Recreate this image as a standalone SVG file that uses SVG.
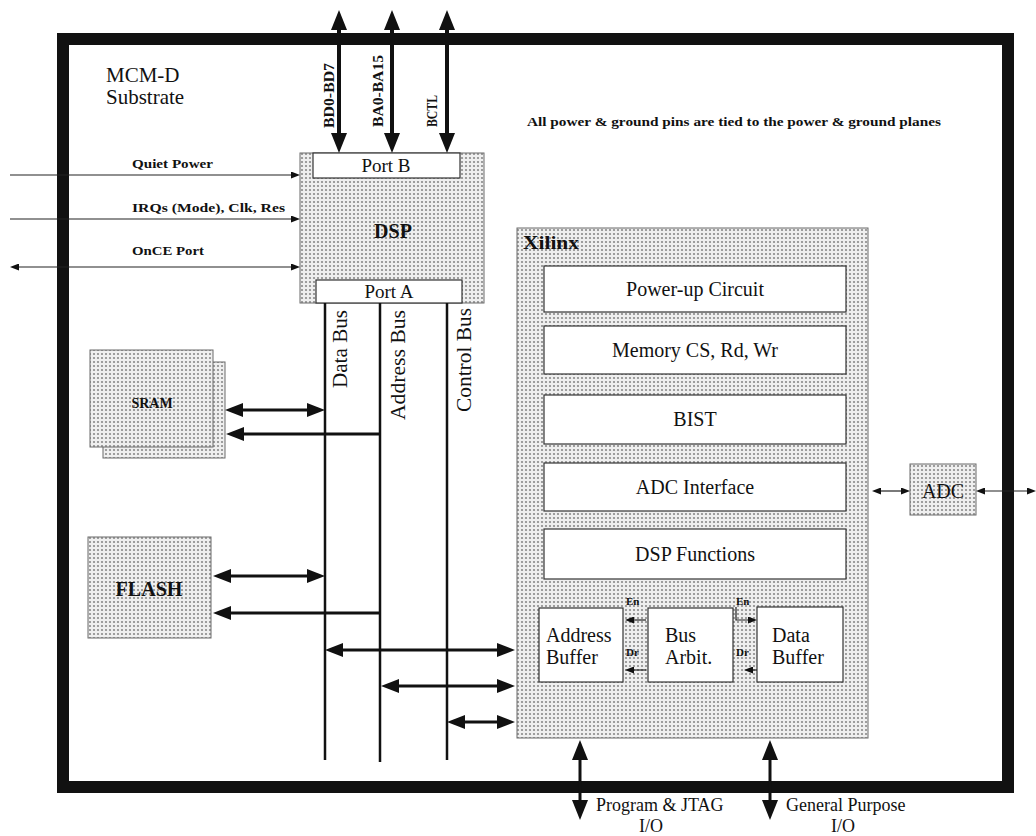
<svg xmlns="http://www.w3.org/2000/svg" width="1036" height="836" viewBox="0 0 1036 836" font-family="'Liberation Serif', 'DejaVu Serif', serif">
<style>
.t { font-family: 'Liberation Serif', 'DejaVu Serif', serif; fill: #111; }
.b { font-weight: bold; }
.shade { fill: url(#dots); stroke: #6a6a6a; stroke-width: 1; }
.white { fill: #fff; stroke: #333; stroke-width: 1.2; }
.bus { stroke: #111; stroke-width: 2.5; fill: none; }
.thick { stroke: #111; stroke-width: 4; fill: none; }
.med { stroke: #111; stroke-width: 3; fill: none; }
.thin { stroke: #222; stroke-width: 1.2; fill: none; }
</style>
<defs>
<pattern id="dots" width="4" height="4" patternUnits="userSpaceOnUse">
<rect width="4" height="4" fill="#efefef"/>
<circle cx="2" cy="2" r="1.1" fill="#8a8a8a"/>
</pattern>
<marker id="hb" viewBox="0 0 20 16" refX="6" refY="8" markerWidth="20" markerHeight="16" markerUnits="userSpaceOnUse" orient="auto-start-reverse"><path d="M0,0 L20,8 L0,16 z" fill="#111"/></marker>
<marker id="hm" viewBox="0 0 18 14" refX="6" refY="7" markerWidth="18" markerHeight="14" markerUnits="userSpaceOnUse" orient="auto-start-reverse"><path d="M0,0 L18,7 L0,14 z" fill="#111"/></marker>
<marker id="hs" viewBox="0 0 9 7" refX="3" refY="3.5" markerWidth="9" markerHeight="7" markerUnits="userSpaceOnUse" orient="auto-start-reverse"><path d="M0,0 L9,3.5 L0,7 z" fill="#111"/></marker>
</defs>

<rect width="1036" height="836" fill="#fff"/>

<g id="substrate">
<rect x="63" y="39" width="945" height="748" fill="none" stroke="#111" stroke-width="12"/>
<text class="t" x="106" y="82" font-size="21">MCM-D</text>
<text class="t" x="106" y="104" font-size="21">Substrate</text>
<text class="t" x="527" y="126" font-size="12" font-weight="600" textLength="414" lengthAdjust="spacingAndGlyphs">All power &amp; ground pins are tied to the power &amp; ground planes</text>
</g>

<g id="dsp">
<rect class="shade" x="300" y="153" width="184" height="150"/>
<rect class="white" x="313" y="153" width="147" height="25"/>
<rect class="white" x="316" y="280" width="146" height="23"/>
<text class="t" x="386" y="172" font-size="19" text-anchor="middle">Port B</text>
<text class="t" x="389" y="298" font-size="19" text-anchor="middle">Port A</text>
<text class="t b" x="393" y="238" font-size="20" text-anchor="middle">DSP</text>
</g>

<g id="sram">
<rect class="shade" x="103" y="362" width="122" height="96"/>
<rect class="shade" x="90" y="350" width="123" height="97"/>
<text class="t b" x="152" y="408" font-size="14" text-anchor="middle">SRAM</text>
</g>

<g id="flash">
<rect class="shade" x="88" y="537" width="123" height="101"/>
<text class="t b" x="149" y="596" font-size="21" text-anchor="middle" textLength="67" lengthAdjust="spacingAndGlyphs">FLASH</text>
</g>

<g id="xilinx">
<rect class="shade" x="517" y="228" width="351" height="510"/>
<text class="t b" x="523" y="249" font-size="18" textLength="56" lengthAdjust="spacingAndGlyphs">Xilinx</text>
</g>
<g id="powerup">
<rect class="white" x="544" y="266" width="302" height="46"/>
<text class="t" x="695" y="296" font-size="20" text-anchor="middle">Power-up Circuit</text>
</g>
<g id="memory">
<rect class="white" x="544" y="326" width="302" height="48"/>
<text class="t" x="695" y="357" font-size="20" text-anchor="middle">Memory CS, Rd, Wr</text>
</g>
<g id="bist">
<rect class="white" x="544" y="395" width="302" height="49"/>
<text class="t" x="695" y="426" font-size="20" text-anchor="middle">BIST</text>
</g>
<g id="adcif">
<rect class="white" x="544" y="463" width="302" height="48"/>
<text class="t" x="695" y="494" font-size="20" text-anchor="middle">ADC Interface</text>
</g>
<g id="dspfunc">
<rect class="white" x="544" y="529" width="302" height="50"/>
<text class="t" x="695" y="561" font-size="20" text-anchor="middle">DSP Functions</text>
</g>
<g id="addrbuf">
<rect class="white" x="539" y="608" width="84" height="74"/>
<text class="t" x="546" y="642" font-size="20">Address</text>
<text class="t" x="546" y="664" font-size="20">Buffer</text>
</g>
<g id="busarbit">
<rect class="white" x="648" y="608" width="85" height="74"/>
<text class="t" x="665" y="642" font-size="20">Bus</text>
<text class="t" x="665" y="664" font-size="20">Arbit.</text>
</g>
<g id="databuf">
<rect class="white" x="757" y="607" width="86" height="75"/>
<text class="t" x="772" y="642" font-size="20">Data</text>
<text class="t" x="772" y="664" font-size="20">Buffer</text>
</g>

<g id="adc">
<rect class="shade" x="910" y="464" width="66" height="51"/>
<text class="t" x="943" y="498" font-size="20" text-anchor="middle">ADC</text>
</g>

<g id="connectors">
<line class="thick" x1="339" y1="24" x2="339" y2="139" marker-start="url(#hb)" marker-end="url(#hb)"/>
<line class="thick" x1="392" y1="24" x2="392" y2="139" marker-start="url(#hb)" marker-end="url(#hb)"/>
<line class="thick" x1="447" y1="24" x2="447" y2="139" marker-start="url(#hb)" marker-end="url(#hb)"/>
<text class="t b" transform="translate(334,128) rotate(-90)" font-size="14" textLength="65" lengthAdjust="spacingAndGlyphs">BD0-BD7</text>
<text class="t b" transform="translate(383,127) rotate(-90)" font-size="14" textLength="72" lengthAdjust="spacingAndGlyphs">BA0-BA15</text>
<text class="t b" transform="translate(437,127) rotate(-90)" font-size="14" textLength="32" lengthAdjust="spacingAndGlyphs">BCTL</text>

<line class="thin" x1="10" y1="175" x2="294" y2="175" marker-end="url(#hs)"/>
<line class="thin" x1="10" y1="219" x2="294" y2="219" marker-end="url(#hs)"/>
<line class="thin" x1="16" y1="267" x2="294" y2="267" marker-start="url(#hs)" marker-end="url(#hs)"/>
<text class="t b" x="132" y="168" font-size="13" textLength="81" lengthAdjust="spacingAndGlyphs">Quiet Power</text>
<text class="t b" x="132" y="212" font-size="13" textLength="153" lengthAdjust="spacingAndGlyphs">IRQs (Mode), Clk, Res</text>
<text class="t b" x="132" y="255" font-size="13" textLength="72" lengthAdjust="spacingAndGlyphs">OnCE Port</text>

<line class="bus" x1="325" y1="303" x2="325" y2="760"/>
<line class="bus" x1="380" y1="303" x2="380" y2="762"/>
<line class="bus" x1="447" y1="303" x2="447" y2="760"/>
<text class="t" transform="translate(347,388) rotate(-90)" font-size="21" textLength="78" lengthAdjust="spacingAndGlyphs">Data Bus</text>
<text class="t" transform="translate(405,420) rotate(-90)" font-size="21" textLength="110" lengthAdjust="spacingAndGlyphs">Address Bus</text>
<text class="t" transform="translate(471,412) rotate(-90)" font-size="21" textLength="104" lengthAdjust="spacingAndGlyphs">Control Bus</text>

<line class="med" x1="237" y1="410" x2="313" y2="410" marker-start="url(#hm)" marker-end="url(#hm)"/>
<line class="med" x1="380" y1="434" x2="238" y2="434" marker-end="url(#hm)"/>
<line class="med" x1="225" y1="576" x2="313" y2="576" marker-start="url(#hm)" marker-end="url(#hm)"/>
<line class="med" x1="380" y1="613" x2="225" y2="613" marker-end="url(#hm)"/>
<line class="med" x1="337" y1="650" x2="503" y2="650" marker-start="url(#hm)" marker-end="url(#hm)"/>
<line class="med" x1="393" y1="686" x2="503" y2="686" marker-start="url(#hm)" marker-end="url(#hm)"/>
<line class="med" x1="459" y1="722" x2="503" y2="722" marker-start="url(#hm)" marker-end="url(#hm)"/>

<line class="thin" x1="646" y1="620" x2="631" y2="620" marker-end="url(#hs)"/>
<line class="thin" x1="646" y1="670" x2="631" y2="670" marker-end="url(#hs)"/>
<polyline class="thin" points="736,607 736,620 751,620" marker-end="url(#hs)"/>
<line class="thin" x1="757" y1="670" x2="750" y2="670" marker-end="url(#hs)"/>
<text class="t b" x="626" y="605" font-size="11">En</text>
<text class="t b" x="626" y="656" font-size="11">Dr</text>
<text class="t b" x="736" y="605" font-size="11">En</text>
<text class="t b" x="736" y="656" font-size="11">Dr</text>

<line class="thin" x1="878" y1="491" x2="904" y2="491" marker-start="url(#hs)" marker-end="url(#hs)"/>
<line class="thin" x1="982" y1="491" x2="1030" y2="491" marker-start="url(#hs)" marker-end="url(#hs)"/>

<line class="med" x1="580" y1="754" x2="580" y2="806" marker-start="url(#hb)" marker-end="url(#hb)"/>
<line class="med" x1="770" y1="754" x2="770" y2="806" marker-start="url(#hb)" marker-end="url(#hb)"/>
<text class="t" x="596" y="811" font-size="18">Program &amp; JTAG</text>
<text class="t" x="651" y="832" font-size="18" text-anchor="middle">I/O</text>
<text class="t" x="786" y="811" font-size="18">General Purpose</text>
<text class="t" x="843" y="832" font-size="18" text-anchor="middle">I/O</text>
</g>
</svg>
